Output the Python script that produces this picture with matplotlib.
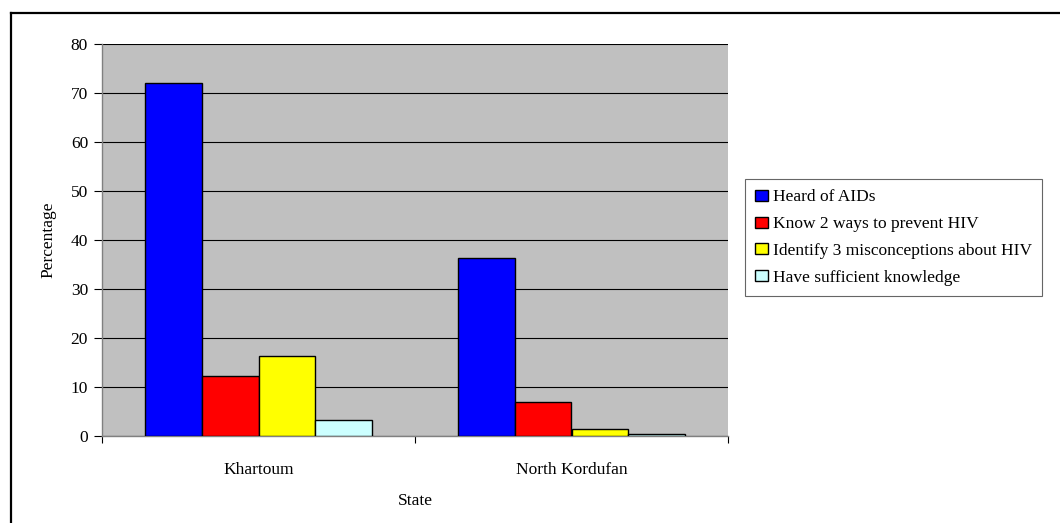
import matplotlib
matplotlib.use("Agg")
import matplotlib.pyplot as plt
import numpy as np
from matplotlib.lines import Line2D
from matplotlib.patches import Patch

plt.rcParams['font.family'] = ['Liberation Serif', 'DejaVu Serif']

states = ["Khartoum", "North Kordufan"]
series_names = [
    "Heard of AIDs",
    "Know 2 ways to prevent HIV",
    "Identify 3 misconceptions about HIV",
    "Have sufficient knowledge",
]
heard_of_aids = [72.0, 36.3]
know_two_ways = [12.2, 6.9]
misconceptions = [16.3, 1.4]
sufficient_knowledge = [3.3, 0.3]
y_ticks = [0, 10, 20, 30, 40, 50, 60, 70, 80]

series_values = [heard_of_aids, know_two_ways, misconceptions, sufficient_knowledge]
colors = ["#0000FF", "#FF0000", "#FFFF00", "#CCFFFF"]

FS = 12.5

W, H = 1060, 523
fig = plt.figure(figsize=(W / 100, H / 100), dpi=100)
fig.patch.set_facecolor("white")

# plot area in pixel coordinates
left, right, top, bottom = 102, 728, 43.7, 435.7
ax = fig.add_axes([left / W, 1 - bottom / H, (right - left) / W, (bottom - top) / H])
ax.set_facecolor("#C0C0C0")

n = len(series_values)
bar_w = 1 / 5.5
x = np.arange(len(states))
for i, (vals, col, name) in enumerate(zip(series_values, colors, series_names)):
    offs = (i - (n - 1) / 2) * bar_w
    ax.bar(x + offs, vals, width=bar_w, color=col, edgecolor="black",
           linewidth=1.0, label=name, zorder=3)

ax.set_xlim(-0.5, len(states) - 0.5)
ax.set_ylim(0, 80)
ax.set_yticks(y_ticks)
ax.set_yticklabels([str(t) for t in y_ticks], fontsize=FS)
ax.yaxis.grid(True, color="black", linewidth=0.8, zorder=1)
ax.set_axisbelow(True)

# category labels centred, tick marks at category boundaries
ax.set_xticks(x)
ax.set_xticklabels(states, fontsize=FS)
ax.tick_params(axis="x", which="major", length=0, pad=19)
ax.set_xticks(np.arange(-0.5, len(states), 1.0), minor=True)
ax.tick_params(axis="x", which="minor", length=5, width=0.8, direction="out", color="black")
ax.tick_params(axis="y", length=6, width=0.8, direction="out", pad=4)

for side in ["top", "right"]:
    ax.spines[side].set_visible(False)
ax.spines["left"].set_color("#808080")
ax.spines["bottom"].set_color("#808080")
ax.spines["left"].set_linewidth(1.0)
ax.spines["bottom"].set_linewidth(1.0)

ax.set_ylabel("Percentage", fontsize=FS, labelpad=10)
ax.set_xlabel("State", fontsize=FS, labelpad=11)

# outer chart frame
fig.add_artist(Line2D([10.5 / W, 10.5 / W], [0, 1 - 12.5 / H], transform=fig.transFigure,
                      color="black", linewidth=1.6))
fig.add_artist(Line2D([10.5 / W, 1.0], [1 - 12.5 / H, 1 - 12.5 / H], transform=fig.transFigure,
                      color="black", linewidth=1.6))

handles = [Patch(facecolor=c, edgecolor="black", linewidth=1.0) for c in colors]
leg = fig.legend(handles, series_names, loc="upper left",
                 bbox_to_anchor=(745 / W, 1 - 179 / H),
                 fontsize=FS, frameon=True, fancybox=False,
                 handlelength=0.7, handleheight=0.6, handletextpad=0.3,
                 labelspacing=0.62, borderpad=0.6, borderaxespad=0)
leg.get_frame().set_edgecolor("#404040")
leg.get_frame().set_linewidth(0.8)

fig.savefig("out.png", dpi=100, facecolor="white")
